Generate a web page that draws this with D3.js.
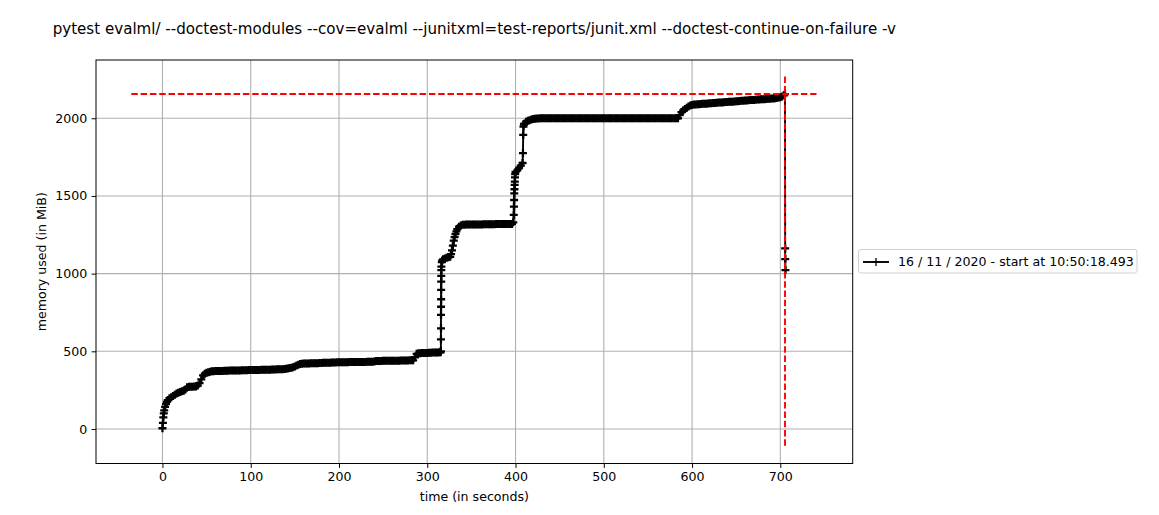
<!DOCTYPE html>
<html><head><meta charset="utf-8">
<script src="https://cdn.jsdelivr.net/npm/d3@7"></script>
<style>body{margin:0;background:#fff} text{font-family:"DejaVu Sans",sans-serif;fill:#000}</style>
</head><body><svg id="c" width="1159" height="515"></svg>
<script>
const titleText = "pytest evalml/ --doctest-modules --cov=evalml --junitxml=test-reports/junit.xml --doctest-continue-on-failure -v";
const xLabel = "time (in seconds)";
const yLabel = "memory used (in MiB)";
const legendLabel = "16 / 11 / 2020 - start at 10:50:18.493";
const xTicks = [0, 100, 200, 300, 400, 500, 600, 700];
const yTicks = [0, 500, 1000, 1500, 2000];
const xDomain = [-75.3, 782];
const yDomain = [-222, 2375];
const maxMemory = 2156;
const maxTime = 705.3;
const hlineSpan = [-35.3, 741];
const vlineSpan = [-110, 2268];

// [time (s), memory (MiB)] readings
const samples = [
[0,5],[0.5,40],[1,75],[1.5,100],[2,120],[3,142],[4,160],[5,175],[6,185],[8,198],[10,205],[12,212],[14,220],[16,228],[18,234],[20,238],[22,243],[24,247],[26,255],[28,268],[30,272],[32,272],[34,272],[36,273],[38,274],[40,280],[42,295],[44,320],[46,345],[48,356],[50,362],[52,366],[54,369],[56,371],[58,372],
[60,373],[62,373],[64,374],[66,374],[68,374],[70,375],[72,375],[74,375],[76,376],[78,376],
[80,376],[82,377],[84,377],[86,377],[88,377],[90,378],[92,378],[94,378],[96,378],[98,379],
[100,379],[102,379],[104,380],[106,380],[108,380],[110,380],[112,381],[114,381],[116,381],[118,382],
[120,382],[122,382],[124,383],[126,383],[128,383],[130,384],[132,384],[134,385],[136,385],[138,386],
[140,388],[142,390],[144,392],[146,395],[148,398],[150,402],[152,408],[154,414],[156,418],[158,420],
[160,421],[162,421],[164,422],[166,422],[168,423],[170,423],[172,424],[174,424],[176,424],[178,425],
[180,425],[182,426],[184,426],[186,426],[188,427],[190,427],[192,428],[194,428],[196,428],[198,429],
[200,429],[202,429],[204,430],[206,430],[208,430],[210,430],[212,431],[214,431],[216,431],[218,431],
[220,431],[222,432],[224,432],[226,432],[228,432],[230,432],[232,433],[234,433],[236,433],[238,433],
[240,434],[242,437],[244,438],[246,438],[248,438],[250,439],[252,439],[254,439],[256,439],[258,439],
[260,440],[262,440],[264,440],[266,440],[268,440],[270,441],[272,441],[274,441],[276,441],[278,441],
[280,442],[282,442],[284,442],[286,462],[288,484],[290,487],[292,488],[294,489],[296,489],[298,490],
[300,490],[302,491],[304,491],[306,492],[308,492],[310,493],[312,493],[314,494],[315,494],
[315.4,500],[315.5,577],[315.55,648],[315.6,734],[315.65,787],[315.7,835],[315.75,895],[315.8,948],[315.85,985],[315.9,1023],[316,1045],
[316.5,1075],[317,1085],[318,1092],[320,1098],[322,1102],[324,1105],[326,1108],[327,1125],[328,1150],[329,1180],[330,1212],[331,1235],[332,1255],[333,1272],[334,1287],[336,1302],[338,1310],[340,1314],[342,1315],
[344,1316],[346,1316],[348,1316],[350,1316],[352,1317],[354,1317],[356,1317],[358,1317],[360,1317],[362,1317],
[364,1318],[366,1318],[368,1318],[370,1318],[372,1318],[374,1318],[376,1318],[378,1319],[380,1319],[382,1319],
[384,1319],[386,1319],[388,1319],[390,1320],[392,1320],[394,1320],[396,1320],
[397.5,1330],[398,1378],[398.2,1431],[398.4,1474],[398.6,1517],[398.8,1543],[399,1571],[399.2,1592],[399.4,1620],[399.6,1641],
[400,1654],[402,1665],[404,1680],[406,1695],[408,1712],[408.4,1775],[408.7,1893],[409,1946],[409.5,1960],
[410,1965],[412,1978],[414,1984],[416,1988],[418,1992],[420,1995],[422,1997],[424,1998],[426,1999],
[428,2000],[430,2000],[432,2000],[434,2000],[436,2000],[438,2000],[440,2000],[442,2000],[444,2000],[446,2000],
[448,2000],[450,2000],[452,2000],[454,2000],[456,2000],[458,2000],[460,2000],[462,2000],[464,2000],[466,2000],
[468,2000],[470,2000],[472,2000],[474,2000],[476,2000],[478,2000],[480,2000],[482,2000],[484,2000],[486,2000],
[488,2000],[490,2000],[492,2000],[494,2000],[496,2000],[498,2000],[500,2000],[502,2000],[504,2000],[506,2000],
[508,2000],[510,2000],[512,2000],[514,2000],[516,2000],[518,2000],[520,2000],[522,2000],[524,2000],[526,2000],
[528,2000],[530,2000],[532,2000],[534,2000],[536,2000],[538,2000],[540,2000],[542,2000],[544,2000],[546,2000],
[548,2000],[550,2000],[552,2000],[554,2000],[556,2000],[558,2000],[560,2000],[562,2000],[564,2000],[566,2000],
[568,2000],[570,2000],[572,2000],[574,2000],[576,2000],[578,2000],[580,2000],[582,2000],[584,2000],
[586,2020],[588,2040],[590,2050],[592,2060],[594,2068],[596,2076],[598,2082],[600,2086],[602,2088],[604,2089],
[606,2090],[608,2091],[610,2092],[612,2093],[614,2093],[616,2094],[618,2095],[620,2096],
[622,2097],[624,2098],[626,2099],[628,2100],[630,2101],[632,2101],[634,2102],[636,2103],[638,2104],[640,2105],
[642,2106],[644,2106],[646,2107],[648,2108],[650,2109],[652,2110],[654,2111],[656,2112],[658,2113],
[660,2114],[662,2115],[664,2116],[666,2117],[668,2118],[670,2118],[672,2119],[674,2120],[676,2121],[678,2122],
[680,2123],[682,2123],[684,2124],[686,2125],[688,2126],[690,2127],[692,2128],[694,2129],[696,2131],[698,2133],
[700,2136],[702,2140],[704,2148],[705.3,2156],[705.5,1163],[705.6,1094],[705.8,1023]
];

const plot = {left: 96, right: 852.7, top: 60, bottom: 463.5};
const svg = d3.select("#c");
const x = d3.scaleLinear().domain(xDomain).range([plot.left, plot.right]);
const y = d3.scaleLinear().domain(yDomain).range([plot.bottom, plot.top]);

// grid
const grid = svg.append("g").attr("stroke", "#b0b0b0").attr("stroke-width", 1.1);
grid.selectAll("line.gx").data(xTicks).join("line")
  .attr("x1", d => x(d)).attr("x2", d => x(d)).attr("y1", plot.top).attr("y2", plot.bottom);
grid.selectAll("line.gy").data(yTicks).join("line")
  .attr("y1", d => y(d)).attr("y2", d => y(d)).attr("x1", plot.left).attr("x2", plot.right);

svg.append("clipPath").attr("id", "pc").append("rect")
  .attr("x", plot.left).attr("y", plot.top).attr("width", plot.right - plot.left).attr("height", plot.bottom - plot.top);
const g = svg.append("g").attr("clip-path", "url(#pc)");

const line = d3.line().x(d => x(d[0])).y(d => y(d[1]));
g.append("path").datum(samples).attr("d", line).attr("fill", "none").attr("stroke", "#000").attr("stroke-width", 1.9).attr("stroke-linejoin", "round");
const mk = "M-4,0H4M0,-4V4";
g.selectAll("path.mk").data(samples).join("path").attr("class", "mk")
  .attr("transform", d => `translate(${x(d[0])},${y(d[1])})`)
  .attr("d", mk).attr("stroke", "#000").attr("stroke-width", 2.3).attr("fill", "none");

// max lines
g.append("line").attr("x1", x(hlineSpan[0])).attr("x2", x(hlineSpan[1])).attr("y1", y(maxMemory)).attr("y2", y(maxMemory))
  .attr("stroke", "#ff0000").attr("stroke-width", 1.9).attr("stroke-dasharray", "6.5,2.8");
g.append("line").attr("x1", x(maxTime)).attr("x2", x(maxTime)).attr("y1", y(vlineSpan[1])).attr("y2", y(vlineSpan[0]))
  .attr("stroke", "#ff0000").attr("stroke-width", 1.9).attr("stroke-dasharray", "6.5,2.8");

// axes
const xAxis = d3.axisBottom(x).tickValues(xTicks).tickSize(4.4).tickPadding(4.4).tickFormat(d3.format("d"));
const yAxis = d3.axisLeft(y).tickValues(yTicks).tickSize(4.4).tickPadding(4.4).tickFormat(d3.format("d"));
const gx = svg.append("g").attr("transform", `translate(0,${plot.bottom})`).call(xAxis);
const gy = svg.append("g").attr("transform", `translate(${plot.left},0)`).call(yAxis);
[gx, gy].forEach(a => {
  a.select(".domain").remove();
  a.selectAll(".tick line").attr("stroke", "#000").attr("stroke-width", 1);
  a.selectAll(".tick text").attr("font-size", "12.6px").attr("font-family", "DejaVu Sans").attr("fill", "#000");
});
svg.append("rect").attr("x", plot.left).attr("y", plot.top).attr("width", plot.right - plot.left).attr("height", plot.bottom - plot.top)
  .attr("fill", "none").attr("stroke", "#000").attr("stroke-width", 1);

// labels
svg.append("text").attr("x", (plot.left + plot.right) / 2).attr("y", 501).attr("text-anchor", "middle").attr("font-size", "12.6px").text(xLabel);
svg.append("text").attr("transform", `translate(46,${(plot.top + plot.bottom) / 2}) rotate(-90)`).attr("text-anchor", "middle").attr("font-size", "12.6px").text(yLabel);
svg.append("text").attr("x", (plot.left + plot.right) / 2).attr("y", 34).attr("text-anchor", "middle").attr("font-size", "15.1px").text(titleText);

// legend
const lg = svg.append("g");
lg.append("rect").attr("x", 858.5).attr("y", 249.5).attr("width", 278.5).attr("height", 23.5).attr("rx", 2.5)
  .attr("fill", "#fff").attr("fill-opacity", 0.8).attr("stroke", "#d0d0d0").attr("stroke-width", 1);
lg.append("line").attr("x1", 863).attr("x2", 889).attr("y1", 262).attr("y2", 262).attr("stroke", "#000").attr("stroke-width", 1.9);
lg.append("path").attr("transform", "translate(876,262)").attr("d", mk).attr("stroke", "#000").attr("stroke-width", 1.3);
lg.append("text").attr("x", 898).attr("y", 266).attr("font-size", "12.6px").text(legendLabel);
</script></body></html>
